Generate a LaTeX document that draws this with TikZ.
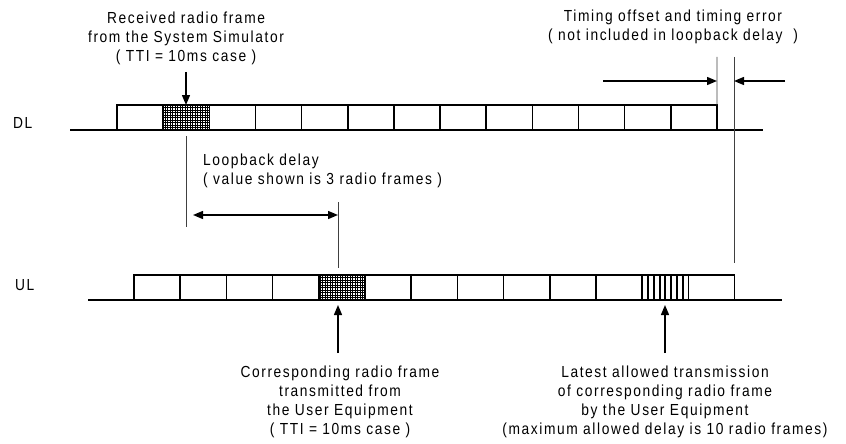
\documentclass[tikz,border=0pt]{standalone}
\usepackage{fontspec}
\setmainfont{Liberation Sans}[LetterSpace=10,FakeStretch=0.86]
\usetikzlibrary{arrows.meta}
\begin{document}
\begin{tikzpicture}[x=1pt,y=-1pt,
  frm/.style={draw, line width=1.5pt, minimum width=46.15pt, minimum height=25pt,
              inner sep=0pt, outer sep=0pt, anchor=south west},
  ufrm/.style={frm, minimum width=46.2pt},
  axisline/.style={line width=1.8pt},
  guide/.style={line width=0.9pt, black!75},
  arr/.style={line width=1.4pt, -{Triangle[length=10pt,width=8pt]}},
  darr/.style={line width=1.4pt, {Triangle[length=10pt,width=8pt]}-{Triangle[length=10pt,width=8pt]}},
  lbl/.style={inner sep=0pt, font=\fontsize{16}{19}\selectfont, text=black},
  hatchgrid/.style={line width=1pt, black},
  stripe/.style={line width=2pt}]
\useasboundingbox (0,0) rectangle (846,444);

% labels
\node[lbl, anchor=base west] (dl) at (13,128) {DL};
\node[lbl, anchor=base west] (ul) at (15,290) {UL};

% axes
\coordinate (dlL) at (70,130);
\coordinate (dlR) at (763,130);
\coordinate (ulL) at (88,300);
\coordinate (ulR) at (782,300);
\draw[axisline] (dlL) -- (dlR);
\draw[axisline] (ulL) -- (ulR);

% DL frames
\foreach \i in {0,...,12}
  \node[frm] (dl\i) at ({117+46.15*\i},130) {};
% UL frames
\foreach \i in {0,...,12}
  \node[ufrm] (ul\i) at ({134+46.2*\i},300) {};

% hatched DL frame
\begin{scope}
  \clip (dl1.south west) rectangle (dl1.north east);
  \draw[hatchgrid] (dl1.south west) grid[step=2.5pt] (dl1.north east);
\end{scope}
\node[frm] at (dl1.south west) {};
% hatched UL frame
\begin{scope}
  \clip (ul4.south west) rectangle (ul4.north east);
  \draw[hatchgrid] (ul4.south west) grid[step=2.5pt] (ul4.north east);
\end{scope}
\node[ufrm] at (ul4.south west) {};
% striped UL frame
\foreach \k in {1,...,7}
  \draw[stripe] ([xshift=\k*5.775pt]ul11.south west) -- ([xshift=\k*5.775pt]ul11.north west);

% top-left annotation
\node[lbl, align=center, anchor=base] (rx) at (186,62)
  {Received radio frame\\from the System Simulator\\( TTI = 10ms case )};
\coordinate (rxa) at (186,72);
\draw[arr] (rxa) -- (rxa |- dl1.north);

% timing offset
\node[lbl, align=center, anchor=base] (tim) at (673,41)
  {Timing offset and timing error\\( not included in loopback delay\ \ )};
\coordinate (v1) at (717,57);
\coordinate (v2) at (734,57);
\coordinate (v2b) at (734,263);
\draw[guide] (v1) -- (dl12.north east);
\draw[guide] (v2) -- (v2b);
\coordinate (ta) at (603,81);
\coordinate (tb) at (785,81);
\draw[arr] (ta) -- (ta -| v1);
\draw[arr] (tb) -- (tb -| v2);

% loopback delay
\node[lbl, align=left, anchor=base west] (lb) at (203,184)
  {Loopback delay\\( value shown is 3 radio frames )};
\coordinate (g1) at (186,136);
\coordinate (g1b) at (186,227);
\coordinate (g2) at (338,202);
\coordinate (g2b) at (338,268);
\draw[guide] (g1) -- (g1b);
\draw[guide] (g2) -- (g2b);
\coordinate (la) at (193,215);
\draw[darr] (la) -- (la -| g2);

% bottom annotations
\node[lbl, align=center, anchor=base] (tx) at (340,434)
  {Corresponding radio frame\\transmitted from\\the User Equipment\\( TTI = 10ms case )};
\coordinate (u1) at (338,353);
\coordinate (u1t) at (338,305);
\draw[arr] (u1) -- (u1t);

\node[lbl, align=center, anchor=base] (late) at (665,434)
  {Latest allowed transmission\\of corresponding radio frame\\by the User Equipment\\(maximum allowed delay is 10 radio frames)};
\coordinate (u2) at (665,353);
\coordinate (u2t) at (665,305);
\draw[arr] (u2) -- (u2t);
\end{tikzpicture}
\end{document}
